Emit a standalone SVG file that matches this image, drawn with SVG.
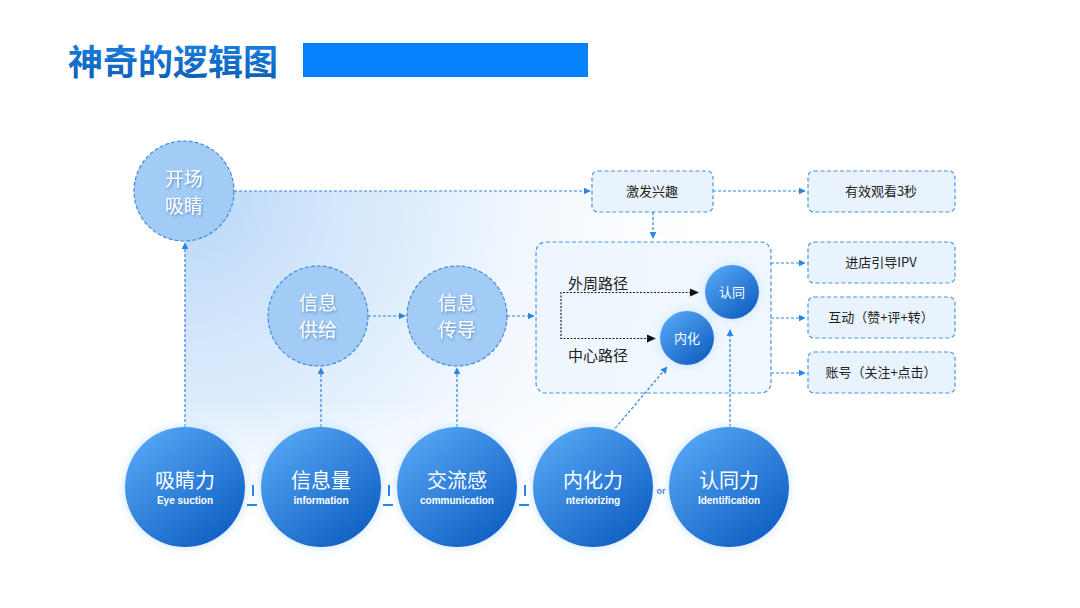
<svg xmlns="http://www.w3.org/2000/svg" width="1080" height="608" viewBox="0 0 1080 608">
<defs>
<linearGradient id="titleG" x1="0" y1="0" x2="0" y2="1">
<stop offset="0" stop-color="#1c86ea"/><stop offset="1" stop-color="#0b5cb0"/>
</linearGradient>
<radialGradient id="bgG" gradientUnits="userSpaceOnUse" cx="185" cy="191" r="560">
<stop offset="0" stop-color="#b7d6f8" stop-opacity="1"/>
<stop offset="0.45" stop-color="#d9eafc" stop-opacity="0.75"/>
<stop offset="0.8" stop-color="#f2f8ff" stop-opacity="0.3"/>
<stop offset="1" stop-color="#ffffff" stop-opacity="0"/>
</radialGradient>
<linearGradient id="fadeV" gradientUnits="userSpaceOnUse" x1="0" y1="400" x2="0" y2="525">
<stop offset="0" stop-color="#fff" stop-opacity="1"/>
<stop offset="1" stop-color="#fff" stop-opacity="0"/>
</linearGradient>
<mask id="bgMask" maskUnits="userSpaceOnUse" x="0" y="0" width="1080" height="608">
<rect x="0" y="0" width="1080" height="608" fill="url(#fadeV)"/>
</mask>
<linearGradient id="ballG" x1="0.15" y1="0.1" x2="0.85" y2="0.95">
<stop offset="0" stop-color="#52a3f2"/><stop offset="1" stop-color="#0e5ec2"/>
</linearGradient>
<filter id="glow2" x="-40%" y="-40%" width="180%" height="180%">
<feGaussianBlur in="SourceAlpha" stdDeviation="5"/>
<feColorMatrix type="matrix" values="0 0 0 0 0.5  0 0 0 0 0.75  0 0 0 0 1  0 0 0 0.9 0"/>
<feMerge><feMergeNode/><feMergeNode in="SourceGraphic"/></feMerge>
</filter>
<filter id="tshadow" x="-20%" y="-20%" width="140%" height="140%">
<feDropShadow dx="1" dy="1.5" stdDeviation="1" flood-color="#3a6fa8" flood-opacity="0.6"/>
</filter>
<marker id="arr" viewBox="0 0 10 10" refX="9" refY="5" markerWidth="7" markerHeight="7" markerUnits="userSpaceOnUse" orient="auto">
<path d="M0,0 L10,5 L0,10 z" fill="#2a86e6"/>
</marker>
<style>
.cn{font-family:"Noto Sans CJK SC","Liberation Sans",sans-serif;}
.en{font-family:"Liberation Sans","Noto Sans",sans-serif;font-weight:bold;}
.dl{stroke:#2a86e6;stroke-width:1.2;stroke-dasharray:3 2;fill:none;}
.dc{fill:#a2cbf6;stroke:#3f8ddf;stroke-width:1.2;stroke-dasharray:4 2;}
.box{fill:#e9f3fe;stroke:#4a94e2;stroke-width:1.2;stroke-dasharray:4 2.5;}
.bt{font-size:13px;fill:#222;text-anchor:middle;}
.ct{font-size:19px;fill:#fff;text-anchor:middle;}
.ball{fill:url(#ballG);filter:url(#glow2);}
.bcn{font-size:20px;fill:#fff;text-anchor:middle;}
.ben{font-size:10px;fill:#fff;text-anchor:middle;}
.sep{stroke:#2a86e6;stroke-width:2;}
</style>
</defs>
<rect width="1080" height="608" fill="#ffffff"/>
<rect x="185" y="191" width="620" height="340" fill="url(#bgG)" mask="url(#bgMask)"/>

<g id="title">
<text x="68" y="75" class="cn" font-size="35" font-weight="bold" fill="url(#titleG)">神奇的逻辑图</text>
<rect x="303" y="43" width="285" height="34" fill="#0581fb"/>
</g>

<g id="container">
<rect x="536" y="242" width="235" height="151" rx="10" class="box" fill-opacity="0.7"/>
<text x="568" y="289" class="cn" font-size="15" fill="#222">外周路径</text>
<text x="568" y="361" class="cn" font-size="15" fill="#222">中心路径</text>
<path d="M698,292.5 H561 V338.5 H655" fill="none" stroke="#222" stroke-width="1.2" stroke-dasharray="2 1.5"/>
<path d="M690,288.5 L699,292.5 L690,296.5 z" fill="#111"/>
<path d="M647,334.5 L656,338.5 L647,342.5 z" fill="#111"/>
</g>

<g id="connectors">
<line class="dl" x1="234" y1="191" x2="590" y2="191" marker-end="url(#arr)"/>
<line class="dl" x1="713" y1="191" x2="805" y2="191" marker-end="url(#arr)"/>
<line class="dl" x1="653" y1="212" x2="653" y2="238" marker-end="url(#arr)"/>
<line class="dl" x1="368" y1="316" x2="405" y2="316" marker-end="url(#arr)"/>
<line class="dl" x1="507" y1="316" x2="534" y2="316" marker-end="url(#arr)"/>
<line class="dl" x1="771" y1="263" x2="805" y2="263" marker-end="url(#arr)"/>
<line class="dl" x1="771" y1="318" x2="805" y2="318" marker-end="url(#arr)"/>
<line class="dl" x1="771" y1="373" x2="805" y2="373" marker-end="url(#arr)"/>
<line class="dl" x1="185" y1="427" x2="185" y2="243" marker-end="url(#arr)"/>
<line class="dl" x1="321" y1="427" x2="321" y2="368" marker-end="url(#arr)"/>
<line class="dl" x1="457" y1="427" x2="457" y2="368" marker-end="url(#arr)"/>
<line class="dl" x1="612" y1="432" x2="667" y2="367" marker-end="url(#arr)"/>
<line class="dl" x1="730" y1="427" x2="730" y2="330" marker-end="url(#arr)"/>
</g>

<g id="node-renting">
<circle cx="732" cy="292" r="27" class="ball"/>
<text x="732" y="297" class="cn" font-size="13" fill="#fff" text-anchor="middle">认同</text>
</g>
<g id="node-neihua">
<circle cx="687" cy="338" r="27" class="ball"/>
<text x="687" y="343" class="cn" font-size="13" fill="#fff" text-anchor="middle">内化</text>
</g>

<g id="node-kaichang">
<circle cx="184" cy="191" r="50" class="dc"/>
<text x="184" y="186" class="cn ct" filter="url(#tshadow)">开场</text>
<text x="184" y="213" class="cn ct" filter="url(#tshadow)">吸睛</text>
</g>
<g id="node-gongji">
<circle cx="318" cy="316" r="50" class="dc"/>
<text x="318" y="310" class="cn ct" filter="url(#tshadow)">信息</text>
<text x="318" y="337" class="cn ct" filter="url(#tshadow)">供给</text>
</g>
<g id="node-chuandao">
<circle cx="457" cy="316" r="50" class="dc"/>
<text x="457" y="310" class="cn ct" filter="url(#tshadow)">信息</text>
<text x="457" y="337" class="cn ct" filter="url(#tshadow)">传导</text>
</g>

<g id="node-jifa">
<rect x="592" y="171" width="121" height="41" rx="6" class="box" fill="#cfe4fb"/>
<text x="652" y="196" class="cn bt">激发兴趣</text>
</g>
<g id="node-youxiao">
<rect x="808" y="171" width="147" height="41" rx="6" class="box"/>
<text x="881" y="196" class="cn bt">有效观看3秒</text>
</g>
<g id="node-jindian">
<rect x="808" y="242" width="147" height="41" rx="6" class="box"/>
<text x="881" y="267" class="cn bt">进店引导IPV</text>
</g>
<g id="node-hudong">
<rect x="808" y="297" width="147" height="41" rx="6" class="box"/>
<text x="881" y="322" class="cn bt">互动（赞+评+转）</text>
</g>
<g id="node-zhanghao">
<rect x="808" y="352" width="147" height="41" rx="6" class="box"/>
<text x="881" y="377" class="cn bt">账号（关注+点击）</text>
</g>

<g id="node-xijingli">
<circle cx="185" cy="487" r="60" class="ball"/>
<text x="185" y="488" class="cn bcn">吸睛力</text>
<text x="185" y="504" class="en ben">Eye suction</text>
</g>
<g id="node-xinxiliang">
<circle cx="321" cy="487" r="60" class="ball"/>
<text x="321" y="488" class="cn bcn">信息量</text>
<text x="321" y="504" class="en ben">information</text>
</g>
<g id="node-jiaoliugan">
<circle cx="457" cy="487" r="60" class="ball"/>
<text x="457" y="488" class="cn bcn">交流感</text>
<text x="457" y="504" class="en ben">communication</text>
</g>
<g id="node-neihuali">
<circle cx="593" cy="487" r="60" class="ball"/>
<text x="593" y="488" class="cn bcn">内化力</text>
<text x="593" y="504" class="en ben">nteriorizing</text>
</g>
<g id="node-rentongli">
<circle cx="729" cy="487" r="60" class="ball"/>
<text x="729" y="488" class="cn bcn">认同力</text>
<text x="729" y="504" class="en ben">Identification</text>
</g>

<g id="separators">
<line class="sep" x1="253" y1="485" x2="253" y2="496" stroke-width="1.5"/>
<line class="sep" x1="247" y1="505" x2="257" y2="505"/>
<line class="sep" x1="389" y1="485" x2="389" y2="496" stroke-width="1.5"/>
<line class="sep" x1="383" y1="505" x2="393" y2="505"/>
<line class="sep" x1="525" y1="485" x2="525" y2="496" stroke-width="1.5"/>
<line class="sep" x1="519" y1="505" x2="529" y2="505"/>
<text x="661" y="494" class="en" font-size="9" fill="#3a8ee6" text-anchor="middle">or</text>
</g>
</svg>
